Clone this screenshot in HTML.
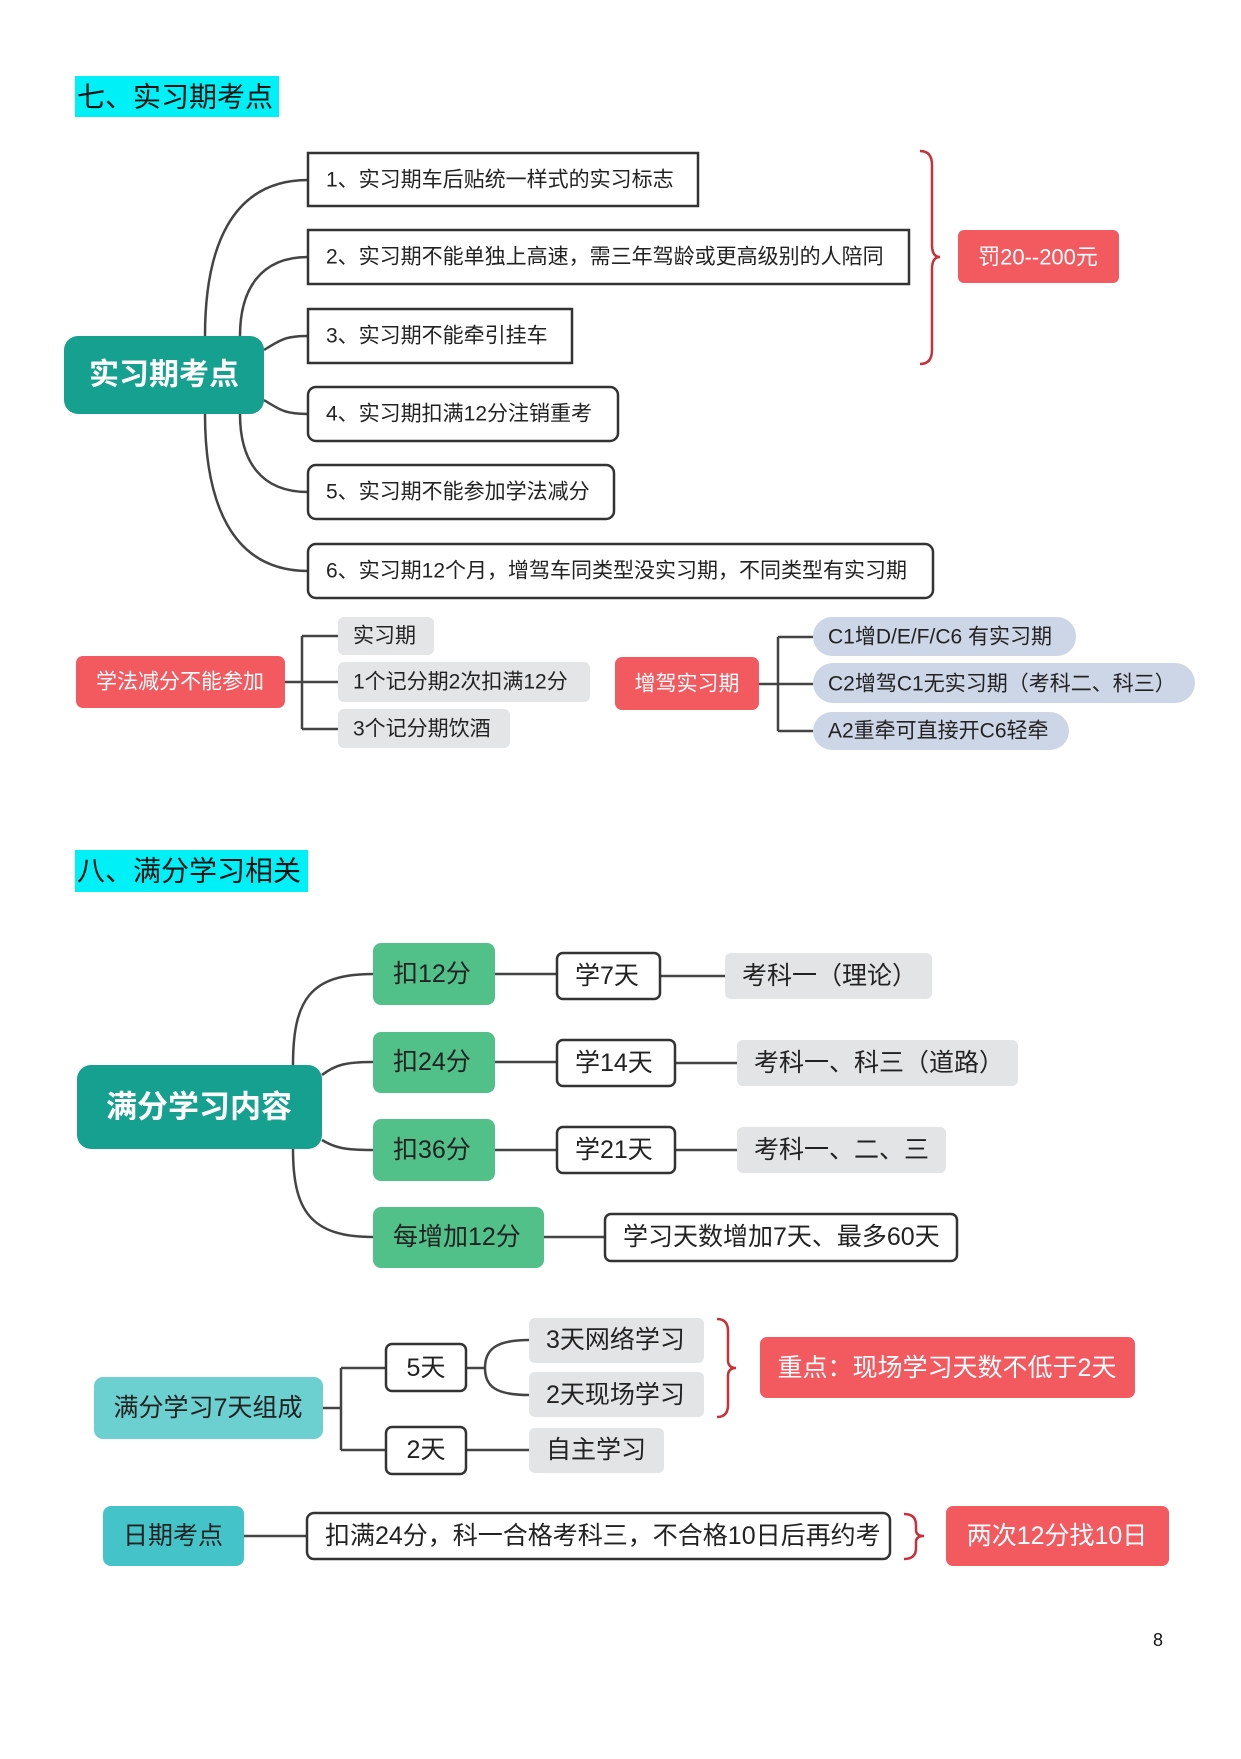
<!DOCTYPE html>
<html><head><meta charset="utf-8"><style>
html,body{margin:0;padding:0;background:#fff}
svg text{font-family:"Liberation Sans","Noto Sans CJK SC",sans-serif;dominant-baseline:central}
</style></head><body>
<svg width="1241" height="1754" viewBox="0 0 1241 1754" xmlns="http://www.w3.org/2000/svg">
<g fill="none" stroke="#444" stroke-width="2.5">
<path d="M205 336 C205 250 230 180 308 180"/>
<path d="M205 414 C205 500 230 571 308 571"/>
<path d="M240 336 C240 290 260 257 308 257"/>
<path d="M240 414 C240 460 260 492 308 492"/>
<path d="M264 350 C280 340 285 336 308 336"/>
<path d="M264 400 C280 410 285 414 308 414"/>
<path d="M285 682 H302 M302 636 V729 M302 636 H338 M302 682 H338 M302 729 H338"/>
<path d="M759 684 H778 M778 637 V731 M778 637 H813 M778 684 H813 M778 731 H813"/>
<path d="M293 1065 C293 1000 310 974 373 974"/>
<path d="M293 1149 C293 1210 310 1237 373 1237"/>
<path d="M322 1075 C335 1065 345 1062 373 1062"/>
<path d="M322 1140 C335 1148 345 1150 373 1150"/>
<path d="M495 974 H557 M660 976 H725 M495 1062 H557 M675 1063 H737 M495 1150 H557 M675 1150 H737 M544 1237 H605"/>
<path d="M323 1408 H341 M341 1368 V1450 M341 1368 H386 M341 1450 H386"/>
<path d="M466 1368 H485 M529 1340 C495 1340 485 1350 485 1368 C485 1386 495 1395 529 1395"/>
<path d="M466 1450 H529"/>
<path d="M244 1536 H307"/>
</g>
<g fill="none" stroke="#c8303a" stroke-width="2.5">
<path d="M920 151 Q932 151 932 165 V245 Q932 257 940 257 Q932 257 932 269 V350 Q932 364 920 364"/>
<path d="M717 1319 Q728 1319 728 1331 V1360 Q728 1368 736 1368 Q728 1368 728 1376 V1405 Q728 1417 717 1417"/>
<path d="M904 1514 Q916 1514 916 1525 V1530 Q916 1536 924 1536 Q916 1536 916 1542 V1548 Q916 1559 904 1559"/>
</g>
<rect x="75" y="76" width="204" height="41" fill="#00f0f8"/>
<text x="77" y="97" font-size="28" fill="#111">七、实习期考点</text>
<rect x="75" y="850" width="233" height="42" fill="#00f0f8"/>
<text x="77" y="871" font-size="28" fill="#111">八、满分学习相关</text>
<rect x="64" y="336" width="200" height="78" rx="14" fill="#16a090"/>
<text x="164" y="375" font-size="30" font-weight="bold" fill="#fff" text-anchor="middle">实习期考点</text>
<g fill="#fff" stroke="#333" stroke-width="2.5">
<rect x="308" y="153" width="390" height="53"/>
<rect x="308" y="230" width="601" height="54"/>
<rect x="308" y="309" width="264" height="54"/>
<rect x="308" y="387" width="310" height="54" rx="8"/>
<rect x="308" y="465" width="306" height="54" rx="8"/>
<rect x="308" y="544" width="625" height="54" rx="8"/>
</g>
<g font-size="21" fill="#222">
<text x="326" y="180">1、实习期车后贴统一样式的实习标志</text>
<text x="326" y="257">2、实习期不能单独上高速，需三年驾龄或更高级别的人陪同</text>
<text x="326" y="336">3、实习期不能牵引挂车</text>
<text x="326" y="414">4、实习期扣满12分注销重考</text>
<text x="326" y="492">5、实习期不能参加学法减分</text>
<text x="326" y="571">6、实习期12个月，增驾车同类型没实习期，不同类型有实习期</text>
</g>
<rect x="958" y="230" width="161" height="53" rx="6" fill="#f25a5f"/>
<text x="1038" y="257" font-size="22" fill="#fff" text-anchor="middle">罚20--200元</text>
<rect x="76" y="656" width="209" height="52" rx="7" fill="#f25a5f"/>
<text x="180" y="682" font-size="21" fill="#fff" text-anchor="middle">学法减分不能参加</text>
<g fill="#e3e5e6"><rect x="338" y="617" width="96" height="38" rx="6"/><rect x="338" y="662" width="252" height="40" rx="6"/><rect x="338" y="709" width="172" height="39" rx="6"/></g>
<g font-size="21" fill="#222"><text x="353" y="636">实习期</text><text x="353" y="682">1个记分期2次扣满12分</text><text x="353" y="729">3个记分期饮酒</text></g>
<rect x="615" y="657" width="144" height="53" rx="7" fill="#f25a5f"/>
<text x="687" y="684" font-size="21" fill="#fff" text-anchor="middle">增驾实习期</text>
<g fill="#cdd6e6"><rect x="813" y="617" width="263" height="39" rx="19"/><rect x="813" y="663" width="382" height="40" rx="20"/><rect x="813" y="712" width="256" height="38" rx="19"/></g>
<g font-size="21" fill="#222"><text x="828" y="637">C1增D/E/F/C6 有实习期</text><text x="828" y="684">C2增驾C1无实习期（考科二、科三）</text><text x="828" y="731">A2重牵可直接开C6轻牵</text></g>
<rect x="77" y="1065" width="245" height="84" rx="14" fill="#16a090"/>
<text x="199" y="1107" font-size="31" font-weight="bold" fill="#fff" text-anchor="middle">满分学习内容</text>
<g fill="#52c189"><rect x="373" y="943" width="122" height="62" rx="8"/><rect x="373" y="1032" width="122" height="61" rx="8"/><rect x="373" y="1119" width="122" height="62" rx="8"/><rect x="373" y="1207" width="171" height="61" rx="8"/></g>
<g font-size="25" fill="#222"><text x="393" y="974">扣12分</text><text x="393" y="1062">扣24分</text><text x="393" y="1150">扣36分</text><text x="393" y="1237">每增加12分</text></g>
<g fill="#fff" stroke="#333" stroke-width="2.5"><rect x="557" y="953" width="103" height="46" rx="6"/><rect x="557" y="1040" width="118" height="46" rx="6"/><rect x="557" y="1127" width="118" height="46" rx="6"/><rect x="605" y="1214" width="352" height="47" rx="6"/></g>
<g font-size="25" fill="#222"><text x="575" y="976">学7天</text><text x="575" y="1063">学14天</text><text x="575" y="1150">学21天</text><text x="623" y="1237">学习天数增加7天、最多60天</text></g>
<g fill="#e3e4e5"><rect x="725" y="953" width="207" height="46" rx="6"/><rect x="737" y="1040" width="281" height="46" rx="6"/><rect x="737" y="1127" width="209" height="46" rx="6"/></g>
<g font-size="25" fill="#222"><text x="742" y="976">考科一（理论）</text><text x="754" y="1063">考科一、科三（道路）</text><text x="754" y="1150">考科一、二、三</text></g>
<rect x="94" y="1377" width="229" height="62" rx="9" fill="#6dd0d0"/>
<text x="208" y="1408" font-size="25" fill="#222" text-anchor="middle">满分学习7天组成</text>
<g fill="#fff" stroke="#333" stroke-width="2.5"><rect x="386" y="1344" width="80" height="47" rx="6"/><rect x="386" y="1427" width="80" height="47" rx="6"/></g>
<g font-size="25" fill="#222"><text x="426" y="1368" text-anchor="middle">5天</text><text x="426" y="1450" text-anchor="middle">2天</text></g>
<g fill="#e3e4e5"><rect x="529" y="1318" width="175" height="45" rx="6"/><rect x="529" y="1372" width="175" height="45" rx="6"/><rect x="529" y="1428" width="135" height="45" rx="6"/></g>
<g font-size="25" fill="#222"><text x="546" y="1340">3天网络学习</text><text x="546" y="1395">2天现场学习</text><text x="546" y="1450">自主学习</text></g>
<rect x="760" y="1337" width="375" height="61" rx="7" fill="#f25a5f"/>
<text x="947" y="1368" font-size="25" fill="#fff" text-anchor="middle">重点：现场学习天数不低于2天</text>
<rect x="103" y="1506" width="141" height="60" rx="8" fill="#44c4c8"/>
<text x="173" y="1536" font-size="25" fill="#222" text-anchor="middle">日期考点</text>
<rect x="307" y="1513" width="583" height="46" rx="7" fill="#fff" stroke="#333" stroke-width="2.5"/>
<text x="325" y="1536" font-size="25" fill="#222">扣满24分，科一合格考科三，不合格10日后再约考</text>
<rect x="946" y="1506" width="223" height="60" rx="7" fill="#f25a5f"/>
<text x="1057" y="1536" font-size="25" fill="#fff" text-anchor="middle">两次12分找10日</text>
<text x="1158" y="1640" font-size="18" fill="#111" text-anchor="middle">8</text>
</svg>
</body></html>
